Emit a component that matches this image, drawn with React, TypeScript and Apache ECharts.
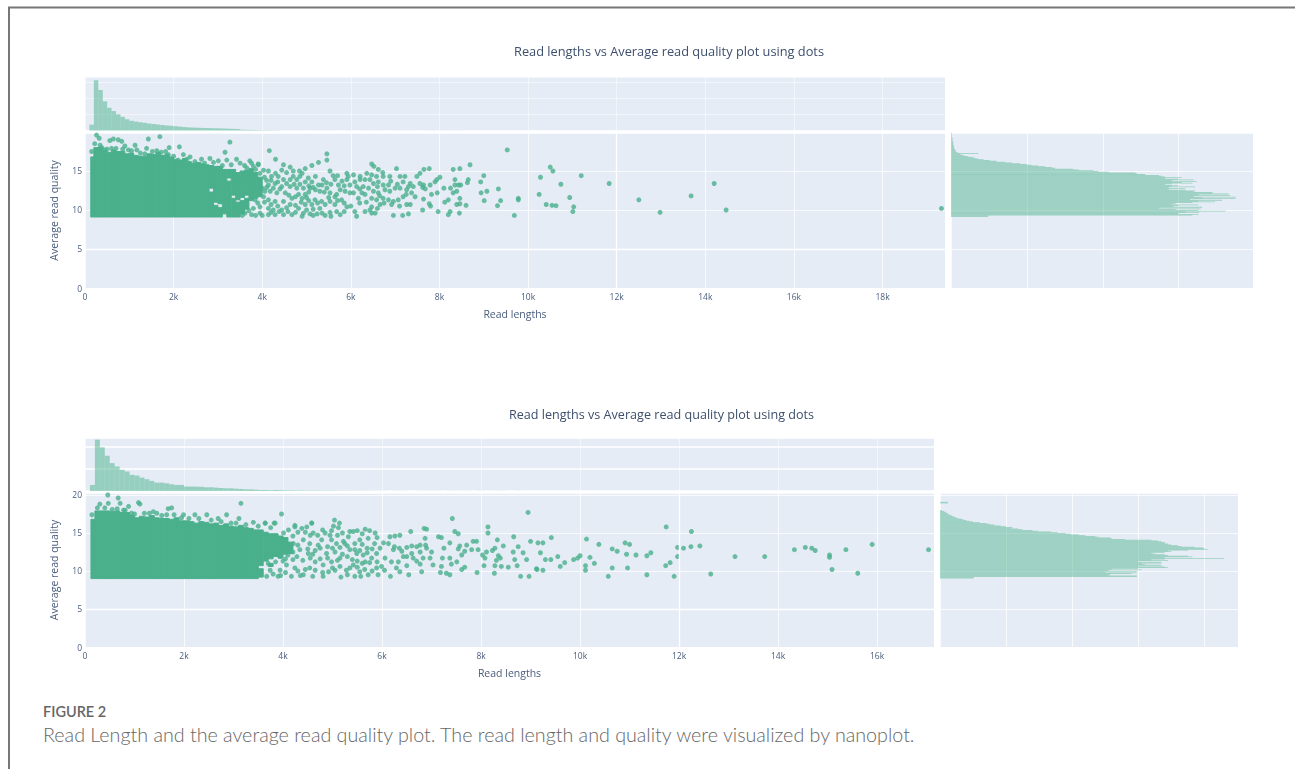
import React, { useEffect, useRef } from "react";
import * as echarts from "echarts";

const chartTitle = "Read lengths vs Average read quality plot using dots";
const xAxisName = "Read lengths";
const yAxisName = "Average read quality";
const captionHead = "FIGURE 2";
const captionText = "Read Length and the average read quality plot. The read length and quality were visualized by nanoplot.";

// lengths are in thousands of bases
const lenBinWidth = 0.1;
const qualBinWidth = 0.1;
const lenBinStart = 0.1;

const topLenHist = [180,1550,1250,900,700,600,500,420,350,300,275,255,235,215,200,185,170,155,145,130,120,105,95,90,85,80,75,72,68,65,60,55,50,45,25,20,18,15,12,10,10,8,5,3,3,3,2,2,2,0,3,3,2,2,2,3,0,0,3,2,0,3,3,2,0,3,3,0,2,3,2,0,3,0,0,3,3,2,0,3,2,3,0,2];
const bottomLenHist = [137,1163,988,798,631,555,479,441,365,350,304,266,228,190,190,175,152,137,137,100,100,99,95,84,84,76,68,61,61,53,46,38,38,30,23,23,19,23,19,15,15,12,12,10,10,9,8,8,8,8,5,5,5,5,4,4,4,3,3,3,0,3,3,3,0,0,3,3,3,3,3,0,3,3,2,3,3,0,3,3,0,2,3,3,0,0,2];

const topQualStart = 9.1;
const topQualHist = [49,49,318,326,300,327,309,362,326,296,329,274,331,293,300,326,291,296,318,348,326,357,315,375,331,375,320,368,326,366,344,345,320,322,309,287,309,287,322,291,300,282,291,318,304,324,291,320,300,282,304,282,278,274,256,245,243,208,194,188,168,161,137,133,124,115,106,100,91,80,71,60,51,43,36,32,29,23,18,15,12,36,9,7,6,6,5,5,4,4,4,4,3,3,3,3,3,2,2,2,2,2,1,1,1,1,1,1];
const bottomQualStart = 9.0;
const bottomQualHist = [51,51,298,298,255,258,290,298,250,298,255,305,260,300,345,340,300,335,310,335,305,335,300,345,320,340,430,340,382,375,345,340,325,320,340,350,345,375,405,400,398,385,365,360,350,345,340,340,335,330,320,280,260,258,240,235,220,210,198,190,178,168,148,140,125,118,108,110,100,92,82,75,70,60,50,45,40,36,32,26,24,21,18,16,13,12,10,8,6,3,0,0,0,0,0,0,0,0,0,12,12];

const topBodyLen = [0.13,0.2,0.3,0.4,0.5,0.6,0.7,0.8,0.9,1.0,1.1,1.2,1.3,1.4,1.5,1.6,1.7,1.8,1.9,2.0,2.1,2.2,2.3,2.4,2.5,2.6,2.7];
const topBodyHigh = [16.8,18.0,18.0,17.6,17.4,17.7,17.5,17.5,17.2,17.3,17.0,16.9,16.9,17.2,17.1,17.4,17.0,17.1,16.8,16.5,16.4,16.6,16.2,16.0,16.1,15.9,15.8];
const topBodyLow = 9.1;
const topBodySegments = [[2.8,9.1,12.3],[2.8,12.8,15.7],[2.9,9.1,10.6],[2.9,11,15.6],[3.0,9.1,10.3],[3.0,10.8,15.6],[3.1,9.5,15.2],[3.2,9.1,13.7],[3.2,14.1,15.2],[3.3,9.1,11.5],[3.3,11.9,15.2],[3.4,9.1,11],[3.4,11.3,14.8],[3.5,9.5,11.2],[3.5,11.6,15.0],[3.6,10.1,11.5],[3.6,11.9,15.1],[3.7,11.2,15.3],[3.8,11.5,14.8],[3.9,11.7,14.2]];

const bottomBodyLen = [0.12,0.2,0.3,0.4,0.5,0.6,0.7,0.8,0.9,1.0,1.1,1.2,1.3,1.4,1.5,1.6,1.7,1.8,1.9,2.0,2.1,2.2,2.3,2.4,2.5,2.6,2.7,2.8,2.9,3.0,3.1,3.2,3.3,3.4];
const bottomBodyHigh = [16.8,17.9,17.9,17.9,17.8,17.9,17.7,17.7,17.3,17.0,17.2,17.1,17.3,17.0,16.9,16.9,16.8,17.0,16.6,16.6,16.5,16.3,16.5,16.4,16.2,16.3,16.0,16.2,15.9,15.8,16.0,15.7,15.6,15.4];
const bottomBodyLow = 9.0;
const bottomBodySegments = [[3.5,9.2,10.3],[3.5,10.7,15.4],[3.6,11.3,15.1],[3.7,10.6,11.0],[3.7,11.6,14.9],[3.8,11.9,14.9],[3.9,11.7,14.6],[4.0,12.2,14.4],[4.1,12.3,13.8]];

const topPoints = [
[0.26,19.6],[0.32,19.2],[0.34,18.3],[0.56,18.9],[0.64,19.1],[0.75,19],[0.83,18.8],[0.9,18.2],[1.13,18.3],[1.17,17.7],[1.39,17.9],[1.43,19.1],[1.69,19.4],[1.62,17.6],[1.9,18],[2.13,18.1],[1.88,17.1],[2.22,17.1],[2.37,16.8],[2.63,16.5],[2.82,16.6],[3.01,16.3],[3.2,16.4],[3.16,17.4],[3.27,18.7],[3.42,16.5],[3.5,16],[3.72,16.3],[3.91,15.9],[4.16,17.6],[4.3,16.5],[0.6,17.9],[0.45,17.7],[0.98,17.7],[2.6,15.8],[2.1,16.4],
[0.15,17.5],[0.22,18.5],[0.38,18],[0.5,17.8],[0.7,17.9],[0.85,17.8],[1.05,17.6],[1.25,17.3],[1.35,17.2],[1.52,17.5],[1.72,17.4],[1.82,17.5],[2,16.9],[2.3,16.5],[2.48,16.2],[2.7,16],[2.9,16.1],[3.1,15.7],[3.3,15.8],[3.6,15.7],[3.8,15.6],
[5.46,17.2],[5.46,16.4],[5.27,16.1],[5.12,15.7],[4.97,15.3],[4.84,15],[6.47,15.9],[6.52,15.6],[6.62,15.2],[6.72,14.8],[7.03,15.3],[7.77,15.3],[7.65,15.2],[7.56,14.7],[7.49,14.3],[8.31,15.2],[8.46,15.3],[8.69,15.8],[8.65,13.9],[8.63,13.5],[8.35,13.9],[8.35,13.2],[8.25,12.8],[8.1,12.8],[8.43,13.2],[8.48,13.2],[8.39,12.4],[8.31,12.2],[8.46,11.5],[8.2,11.3],[8.12,11],[8.46,10.8],[8.6,10.6],[8.39,10.7],[8.24,9.8],[8.2,9.4],[8.45,9.6],[7.97,9.8],[7.62,10],[7.8,10.5],[7.77,10.8],[7.64,11.4],[7.82,12],[7.95,12.2],[8.01,14.2],[7.94,13.9],[7.9,13.6],[7.79,13.2],[7.64,13.2],[7.56,13.4],[7.62,12.9],[7.68,12.7],
[5.91,14.7],[5.94,14.3],[6.06,14.5],[6.21,14.3],[6.36,14.7],[6.47,14.5],[6.58,14.3],[6.73,14.3],[6.88,14.3],[7.11,14.3],[7.22,14.3],[7.18,13.6],[7.34,13.4],[7.41,13],[6.85,13.2],[6.73,13.2],[6.62,13.6],[6.51,13.4],[6.43,13.9],[6.32,13.9],[6.21,13.9],[6.09,13.6],[5.98,13.2],[5.91,13.9],[6.13,13],[6.28,13],[6.4,12.8],[6.51,12.4],[6.62,12.2],[6.77,12.6],[6.88,12.4],[7,12.8],[7.11,12.8],[7.26,12.6],[7.37,12.2],[7.45,11.7],[6.06,12.2],[6.17,11.5],[6.32,12],[6.47,11.5],[6.58,11.3],[6.73,11.5],[6.85,11.3],[6.96,11.1],[7.07,11.3],[7.18,11.7],[7.26,10.7],[7.34,10.7],[6.66,10.7],[6.47,10.4],[6.43,10],[6.55,9.6],[6.47,9.6],[6.32,9.8],[6.09,9.8],[6.13,9.2],[6.96,9.3],[7.17,9.3],[7.3,9.5],[6.92,10.7],[5.91,10.4],[5.98,12.2],[5.87,12.4],[5.79,11.3],[5.68,12],
[3.65,15.4],[3.76,16],[3.91,15.8],[4.03,15.1],[4.14,15],[4.21,14.3],[4.44,15.1],[4.48,15.8],[4.63,15.5],[4.55,14.8],[4.7,15],[4.85,14.3],[4.78,13.9],[4.63,13.9],[4.48,13.9],[4.36,14.3],[5.04,14.1],[4.97,13.6],[5.12,13.6],[5.27,13.2],[5.38,13.9],[5.53,15],[5.64,13.9],[5.72,13.2],[5.76,12.6],[5.46,12.8],[5.3,12.4],[5.53,12.2],[5.64,11.7],[5.08,12.8],[4.93,12.8],[4.78,12.8],[4.63,13],[4.44,13],[4.29,13.4],[4.14,13.2],[4.18,12.4],[4.33,12.2],[4.52,12.2],[4.67,11.5],[4.82,12],[4.97,12],[5.19,11.3],[5.34,11.1],[5.53,11.1],[5.64,10.7],[5.12,10.7],[4.97,10.7],[4.82,10.2],[4.63,10.7],[4.48,11.1],[4.29,11.1],[4.14,11.3],[4.44,10],[4.25,10],[4.14,10.2],[4.67,9.4],[4.48,9.4],[4.29,9.4],[4.14,9.4],[4.93,9.6],[5.08,9.5],[5.24,9.5],[5.53,9.7],[5.55,9.2],[5.76,9.4],[5.68,9.8],[3.95,10.4],[3.84,11.3],[3.76,9.4],[3.61,9.6],[3.95,9.6],[3.8,10.2],[3.65,10.7],[3.54,10],[4.03,11.7],[4.06,12.4],
[3.6,14.6],[3.7,14.8],[3.85,15.2],[3.95,14.7],[4.05,14.2],[4.1,13.8],[4.2,13.8],[4.3,14.7],[4.35,13.6],[4.55,13.4],[4.7,14.3],[4.9,14.7],[4.72,13.3],[4.85,13.3],[5.05,13.1],[5.15,12.9],[5.2,14.3],[5.35,13.2],[5.45,13.5],[5.55,13.3],[5.6,14.4],[5.7,14.4],[5.8,13.7],[5.85,13.1],[5.4,12.3],[5.2,12.6],[5.05,12.3],[5,11.6],[4.9,11.5],[4.75,11.7],[4.6,11.9],[4.4,12.7],[4.25,12.8],[4.1,12.9],[4,12.8],[4.05,11],[4.2,10.7],[4.35,10.5],[4.55,10.3],[4.75,10.6],[4.88,11],[5.05,11.2],[5.25,10.9],[5.42,10.7],[5.5,11.6],[5.7,11.2],[5.85,10.9],[5.3,10.2],[5.15,10.1],[5,10],[4.75,9.7],[4.58,9.8],[4.38,9.8],[4.2,9.7],[3.9,10.9],[3.7,9.9],[3.55,9.3],[3.85,9.3],[4,9.3],[4.9,9.2],[5.15,9.3],[5.35,9.6],[5.42,9.3],[5.85,9.8],[6,10.5],[6.2,10.9],[6.35,11],[6.6,10.2],[6.75,10.9],[6.2,12.7],[6.25,12.2],[6.6,13],[6.9,13.7],[7.05,13.3],[7.3,13],[7.25,12],[7.1,10.5],[6.65,11.8],
[8.94,12.2],[9.07,12.4],[8.93,13.6],[9,14.4],[9.01,11.2],[9.33,12.7],[9.38,11.2],[9.31,10.55],[9.53,17.7],[9.69,9.3],[9.78,11.5],[9.78,11.3],[10.25,12],[10.28,14.2],[10.41,10.7],[10.5,15.5],[10.56,15],[10.54,10.6],[10.63,10.55],[10.74,13.3],[10.94,11.6],[11.03,10.4],[11.01,9.8],[11.2,14.4],[11.83,13.4],[12.5,11.3],[12.98,9.7],[13.68,11.8],[14.2,13.4],[14.47,10],[19.33,10.2]
];

const bottomPoints = [
[0.46,20],[0.67,19.6],[0.71,18.9],[0.3,18.8],[0.47,18.9],[0.88,18.5],[1.08,19],[1.11,18.8],[0.81,18],[0.94,17.6],[1.38,17.8],[1.45,17.6],[1.68,18.2],[1.75,18.3],[1.65,17.4],[1.99,17.4],[2.22,17.4],[2.46,17.4],[2.69,16.9],[2.86,17.4],[3.15,18.9],[3.11,16.9],[3.97,17.5],[3.4,16.4],[3.64,16.3],[3.82,16.3],[4.24,16],[4.58,16.3],
[0.14,17.4],[0.25,18.3],[0.4,18.3],[0.55,18.1],[0.65,18.2],[0.78,18],[1,17.5],[1.2,17.6],[1.3,17.6],[1.55,17.3],[1.8,17.4],[1.95,17],[2.1,16.9],[2.3,16.9],[2.55,16.7],[2.75,16.5],[2.95,16.3],[3.05,16.3],[3.25,16.1],[3.5,15.9],[3.75,15.7],
[7.42,16.9],[8.95,17.7],[5.04,16.7],[5.14,16.3],[5.12,15.7],[5.02,15.9],[4.98,15.3],[6.85,15.6],[6.9,15.5],[6.58,15.2],[7.47,15.2],[7.54,14.9],[7.14,14.5],[7.2,14.4],[8.14,15.8],[8.14,15],[8.66,14.5],[8.33,14.1],[9,13.9],[9.15,13.7],[8.45,13.3],[8.75,13.2],[8.65,12.5],[8.85,12.4],[9.12,10.3],[8.92,11.5],[8.68,11.5],[8.73,10.7],[8.8,9.3],[8.97,9.3],[8.28,13],[8.23,12.7],[8.11,12.5],[8.03,12.1],[8.08,11.7],[8.35,12],[8.39,11.7],[8.31,11.4],[8.28,10.7],[8.41,10.6],[8.55,10.5],[8.27,9.7],[8.06,10.7],[7.92,9.8],[7.84,13.9],[7.91,13.9],[7.71,13.4],[7.57,13.3],[7.54,12.9],[7.81,12.8],[7.67,12.6],[7.94,12.8],[7.61,12.1],[7.51,11.2],[7.67,10.5],[7.61,10.2],[7.37,13.7],[7.25,13],[7.37,11.7],[7.22,11.7],[7.4,10.9],[7.2,10.6],[7.3,9.7],[7.37,9.5],[7.18,9.8],
[6.87,14.3],[6.88,13.4],[6.77,13.4],[6.7,13.2],[6.6,13.3],[6.5,13.1],[6.6,12.3],[6.77,12.5],[6.9,13],[7,12.5],[6.97,11.7],[7.03,10.8],[6.83,11.7],[6.77,10.9],[6.63,11.7],[6.5,11.9],[6.43,11.9],[6.5,10.7],[6.33,11.2],[6.36,9.9],[6.8,9.9],[6.54,9.5],[6.17,9.3],[5.92,9.5],[5.99,10.6],[5.89,10.4],[6.23,12.8],[6.13,13.6],[6.16,14.5],[6.26,14.6],[6.36,14.7],[6.03,13.7],[5.96,13],[5.89,12.3],[6.06,11.7],[6.19,11.2],[6.29,10.4],[5.72,9.5],[5.55,9.9],[5.57,9.3],[5.17,9.2],[4.81,9.3],[4.92,9.9],[5.05,10.1],[5.28,10.1],[5.42,10.8],[5.66,11.2],[5.79,11.7],[5.62,12.1],[5.49,12.3],[5.35,12.8],[5.25,13.6],[5.42,15.2],[5.66,15.5],[5.86,15],[5.72,14.3],[5.55,14.1],[5.32,14.5],[5.22,13.9],[5.08,13.6],[4.98,14.1],[4.85,15],[4.78,14.1],[4.58,16.3],[4.48,15.8],[4.38,15.6],[4.24,15.8],[4.11,15.4],[4.01,15],[3.84,16.3],[3.64,16.3],[4.61,15],[4.71,13.4],[4.88,12.3],[5.05,12.5],[5.15,11.7],[4.98,11.2],[4.81,10.8],[4.65,11.2],[4.54,10.4],[4.41,9.5],[4.24,10.4],[4.17,9.3],[4.07,10.8],[3.94,10.1],[3.67,9.3],[4.34,12.8],[4.21,13.6],[4.41,14.1],[4.54,13.6],[4.51,12.3],[4.28,11.9],[4.01,14.1],[3.94,11.9],[3.74,10.1],
[4.2,14.6],[4.3,15.1],[4.45,15.1],[4.55,14.7],[4.7,14.7],[4.8,15.4],[4.95,14.7],[5.1,14.7],[5.2,15],[5.35,15.2],[5.5,15.3],[5.6,14.9],[5.75,15.3],[5.9,14.4],[4.15,13],[4.3,13.4],[4.5,12.9],[4.65,12.7],[4.75,13],[4.9,13.2],[5,13],[5.15,13.1],[5.3,13.3],[5.45,13.6],[5.6,13.5],[5.7,13],[5.85,13.6],[5.45,12.8],[5.55,12.7],[5.7,12.4],[5.8,12.9],[5.2,12.2],[5.3,11.9],[5.4,11.5],[5.5,11.3],[5.6,11],[5.75,11.1],[5.9,11.2],[5.1,11.4],[4.9,11.7],[4.75,11.6],[4.55,11.7],[4.4,11.4],[4.2,11.5],[4.05,11.6],[3.85,11.2],[3.7,11],[3.8,9.6],[3.95,9.4],[4.05,9.8],[4.3,10],[4.45,10.2],[4.65,10.1],[4.8,9.8],[5,10.4],[5.15,10.6],[5.35,10.4],[5.5,10.5],[5.65,10.2],[5.8,10],[5.3,9.5],[5.45,9.3],[4.6,9.3],[4.35,9.4],[3.9,9.3],[4.6,12.2],[4.2,12.5],[4.1,12.1],[4,11.3],[6.05,10.1],[6.4,12.6],[6.35,13],[6.7,11.3],[6.25,13.2],
[9.25,13.7],[9.42,14.4],[9.2,12.4],[9.3,11.5],[9.41,11.5],[9.13,10.2],[9.25,10.1],[9.55,11.9],[9.69,11.1],[9.6,10.6],[9.87,11.5],[9.95,11.7],[10,12],[10.13,14.2],[10.11,10.7],[10.11,10.1],[10.2,11.8],[10.29,11],[10.38,13.5],[10.57,9.3],[10.65,12.9],[10.65,10.4],[10.75,12.6],[10.91,13.7],[11,13.5],[10.94,12.2],[10.96,10.4],[11.13,12.1],[11.35,9.5],[11.35,12],[11.43,12.4],
[11.74,15.8],[12.25,15.2],[11.97,13.1],[12.09,13],[12.24,13.2],[12.42,13.3],[11.97,11.9],[11.82,11.1],[11.73,10.7],[11.9,9.3],[12.64,9.6],[13.13,11.9],[13.73,11.9],[14.33,12.8],[14.55,13.1],[14.68,13],[14.75,12.7],[15.04,12.1],[15.04,11.8],[15.37,12.8],[15.09,10.2],[15.61,9.7],[15.9,13.5],[17.04,12.8]
];

const topLenMax = 19.41;
const bottomLenMax = 17.15;
const topQualMax = 19.87;
const bottomQualMax = 20.26;
const topLenHistMax = 1650;
const bottomLenHistMax = 1200;
const topQualHistMax = 398;
const bottomQualHistMax = 451;
const lenTickStep = 2;
const qualTickStep = 5;
const histLenTickStep = 500;
const histQualTickStep = 100;

const PLOT_BG = "#e5ecf6";
const DOT = "#4ab08c";
const BODY = "#4ab08c";
const HIST = "rgba(77,180,140,0.52)";
const TEXT = "#4a5d7c";

const rectRender = (fill: string, edge: boolean) => (_p: any, api: any) => {
  const a = api.coord([api.value(0), api.value(2)]);
  const b = api.coord([api.value(1), api.value(3)]);
  return {
    type: "rect",
    shape: { x: Math.min(a[0], b[0]), y: Math.min(a[1], b[1]), width: Math.abs(b[0] - a[0]), height: Math.abs(b[1] - a[1]) },
    style: edge ? { fill, stroke: fill, lineWidth: 1 } : { fill },
  };
};

const rectSeries = (idx: number, rows: number[][], fill: string, edge = false) => ({
  type: "custom",
  xAxisIndex: idx,
  yAxisIndex: idx,
  renderItem: rectRender(fill, edge),
  data: rows,
  encode: { x: [0, 1], y: [2, 3] },
  silent: true,
  z: 2,
});

const hidden = { axisLabel: { show: false }, axisTick: { show: false }, axisLine: { show: false } };
const split = (width = 1, opacity = 0.75) => ({ show: true, lineStyle: { color: "#ffffff", width, opacity } });

function panel(o: any, base: number) {
  const { left, mainW, mainTop, mainH, histTop, histH, rightLeft, rightW, lenMax, qualMax, lenHistMax, qualHistMax, histSplitW, rows } = o;
  const lenLabel = (v: number) => (v === 0 ? "0" : `${v}k`);
  return {
    grid: [
      { left, top: mainTop, width: mainW, height: mainH, backgroundColor: PLOT_BG, borderWidth: 0, show: true },
      { left, top: histTop, width: mainW, height: histH, backgroundColor: PLOT_BG, borderWidth: 0, show: true },
      { left: rightLeft, top: mainTop, width: rightW, height: mainH, backgroundColor: PLOT_BG, borderWidth: 0, show: true },
    ],
    xAxis: [
      {
        gridIndex: base, type: "value", min: 0, max: lenMax, interval: lenTickStep, name: xAxisName, nameLocation: "middle", nameGap: 20,
        nameTextStyle: { color: TEXT, fontFamily: "Open Sans", fontSize: 10.5 },
        axisLabel: { color: TEXT, fontFamily: "Open Sans", fontSize: 8.5, margin: 4, showMaxLabel: false, formatter: lenLabel },
        axisTick: { show: false }, axisLine: { show: false }, splitLine: split(),
      },
      { gridIndex: base + 1, type: "value", min: 0, max: lenMax, interval: lenTickStep, ...hidden, splitLine: split(1, 0.5) },
      { gridIndex: base + 2, type: "value", min: 0, max: qualHistMax, interval: histQualTickStep, ...hidden, splitLine: split() },
    ],
    yAxis: [
      {
        gridIndex: base, type: "value", min: 0, max: qualMax, interval: qualTickStep, name: yAxisName, nameLocation: "middle", nameGap: 26,
        nameTextStyle: { color: TEXT, fontFamily: "Open Sans", fontSize: 10.5 },
        axisLabel: { color: TEXT, fontFamily: "Open Sans", fontSize: 8.5, margin: 3, showMaxLabel: qualMax > 20 ? undefined : false },
        axisTick: { show: false }, axisLine: { show: false }, splitLine: split(),
      },
      { gridIndex: base + 1, type: "value", min: 0, max: lenHistMax, interval: histLenTickStep, ...hidden, splitLine: split(histSplitW, histSplitW > 1 ? 1 : 0.5) },
      { gridIndex: base + 2, type: "value", min: 0, max: qualMax, interval: qualTickStep, ...hidden, splitLine: split() },
    ],
    series: [
      rectSeries(base, rows.body, BODY, true),
      {
        type: "scatter", xAxisIndex: base, yAxisIndex: base, data: rows.points, symbol: "circle", symbolSize: 5, silent: true, z: 3,
        itemStyle: { color: DOT },
        markLine: {
          silent: true, symbol: "none", label: { show: false }, lineStyle: { color: "#ffffff", width: 1.4, type: "solid", opacity: 1 },
          data: rows.strong,
        },
      },
      rectSeries(base + 1, rows.lenHist, HIST),
      rectSeries(base + 2, rows.qualHist, HIST),
    ],
  };
}

const lenRows = (h: number[]) => h.map((c, i) => [lenBinStart + i * lenBinWidth, lenBinStart + (i + 1) * lenBinWidth, 0, c]);
const qualRows = (h: number[], start: number) => h.map((c, i) => [0, c, start + i * qualBinWidth, start + (i + 1) * qualBinWidth]);
const bodyRows = (len: number[], high: number[], low: number, seg: number[][]) => [
  ...len.map((l, i) => [l, (i + 1 < len.length ? len[i + 1] : l + lenBinWidth), low, high[i]]),
  ...seg.map((s) => [s[0], s[0] + lenBinWidth, s[1], s[2]]),
];

export default function App() {
  const plotRef = useRef<HTMLDivElement>(null);
  const pageRef = useRef<HTMLDivElement>(null);

  useEffect(() => {
    document.body.style.margin = "0";
    document.body.style.background = "#ffffff";
    const plots = echarts.init(plotRef.current!, undefined, { renderer: "svg" });
    const page = echarts.init(pageRef.current!, undefined, { renderer: "svg" });

    const a = panel({
      left: 85, mainW: 860, mainTop: 133, mainH: 155, histTop: 77, histH: 53.5, rightLeft: 951, rightW: 302,
      lenMax: topLenMax, qualMax: topQualMax, lenHistMax: topLenHistMax, qualHistMax: topQualHistMax, histSplitW: 1,
      rows: {
        body: bodyRows(topBodyLen, topBodyHigh, topBodyLow, topBodySegments), points: topPoints,
        strong: [{ yAxis: 5 }, { xAxis: 12 }],
        lenHist: lenRows(topLenHist), qualHist: qualRows(topQualHist, topQualStart),
      },
    }, 0);
    const b = panel({
      left: 85, mainW: 849, mainTop: 493, mainH: 154, histTop: 438, histH: 53, rightLeft: 940, rightW: 298,
      lenMax: bottomLenMax, qualMax: bottomQualMax, lenHistMax: bottomLenHistMax, qualHistMax: bottomQualHistMax, histSplitW: 1.6,
      rows: {
        body: bodyRows(bottomBodyLen, bottomBodyHigh, bottomBodyLow, bottomBodySegments), points: bottomPoints,
        strong: [{ yAxis: 5 }, { xAxis: 12 }],
        lenHist: lenRows(bottomLenHist), qualHist: qualRows(bottomQualHist, bottomQualStart),
      },
    }, 3);

    plots.setOption({
      animation: false,
      backgroundColor: "transparent",
      title: [
        { text: chartTitle, left: 664, top: 39.5, textAlign: "center", textStyle: { color: "#3d4f6d", fontFamily: "Open Sans", fontSize: 12.8, fontWeight: "normal" } },
        { text: chartTitle, left: 656.5, top: 403, textAlign: "center", textStyle: { color: "#3d4f6d", fontFamily: "Open Sans", fontSize: 12.6, fontWeight: "normal" } },
      ],
      grid: [...a.grid, ...b.grid],
      xAxis: [...a.xAxis, ...b.xAxis],
      yAxis: [...a.yAxis, ...b.yAxis],
      series: [...a.series, ...b.series],
    });

    page.setOption({
      animation: false,
      backgroundColor: "transparent",
      graphic: [
        { type: "polyline", shape: { points: [[9, 769], [9, 7.5], [1295, 7.5]] }, style: { stroke: "#777777", lineWidth: 2, fill: "none" } },
        { type: "text", x: 43, y: 704, style: { text: captionHead, fill: "#666666", font: "600 14.5px Lato" } },
        { type: "text", x: 43, y: 724, style: { text: captionText, fill: "#666666", font: "300 19.7px Lato" } },
      ],
    });

    return () => {
      plots.dispose();
      page.dispose();
    };
  }, []);

  return (
    <div style={{ position: "relative", width: 1295, height: 769, overflow: "hidden", background: "#fff" }}>
      <div ref={plotRef} style={{ position: "absolute", left: 0, top: 0, width: 1295, height: 769, filter: "blur(0.7px)" }} />
      <div ref={pageRef} style={{ position: "absolute", left: 0, top: 0, width: 1295, height: 769, pointerEvents: "none" }} />
    </div>
  );
}
